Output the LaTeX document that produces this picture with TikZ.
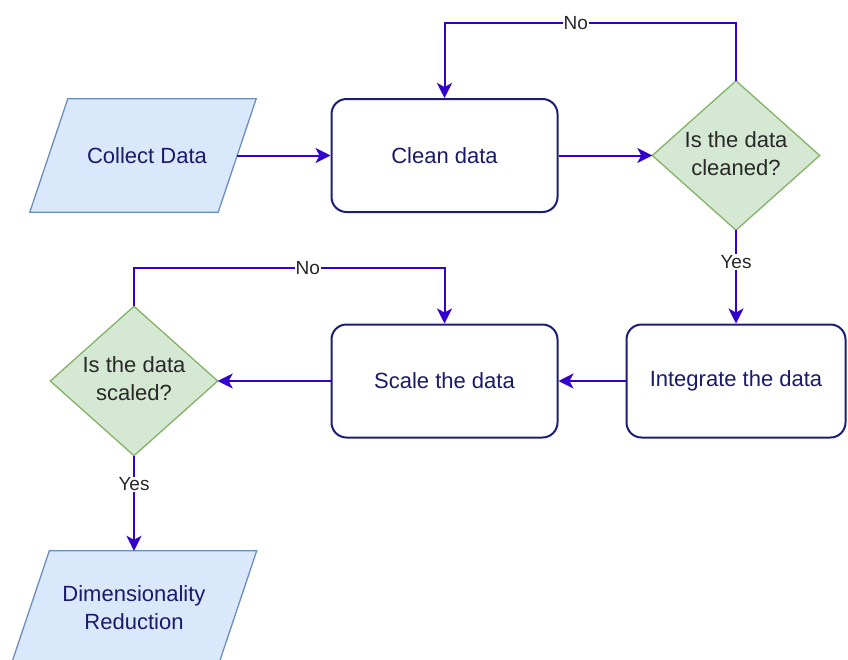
\documentclass[tikz,border=0pt]{standalone}
\usepackage{fontspec}
\setmainfont{Liberation Sans}
\usetikzlibrary{arrows.meta,backgrounds}
\definecolor{conn}{RGB}{51,0,204}
\definecolor{boxline}{RGB}{28,28,118}
\definecolor{boxtext}{RGB}{26,26,107}
\definecolor{parafill}{RGB}{218,232,252}
\definecolor{paraline}{RGB}{108,142,191}
\definecolor{diafill}{RGB}{213,232,212}
\definecolor{dialine}{RGB}{130,179,102}
\definecolor{dtext}{RGB}{40,40,40}
\begin{document}
\begin{tikzpicture}[x=1pt,y=-1pt,
  font=\fontsize{22}{28}\selectfont,
  procbox/.style={draw=boxline,line width=2pt,rounded corners=15pt,fill=white,
    text=boxtext,minimum width=#1,minimum height=113pt,inner sep=0pt,align=center},
  paranode/.style={minimum width=#1,minimum height=113pt,inner sep=0pt,align=center,text=boxtext},
  paraedge/.style={draw=paraline,fill=parafill,line width=1.3pt},
  dianode/.style={minimum width=167pt,minimum height=149pt,inner sep=0pt,align=center,text=dtext},
  diaedge/.style={draw=dialine,fill=diafill,line width=1.3pt},
  flow/.style={draw=conn,line width=2pt,-{Stealth[length=15pt,width=15pt,inset=4pt]}},
  lbl/.style={fill=white,text=dtext,inner sep=1pt,font=\fontsize{19}{22}\selectfont}
]
\useasboundingbox (0,0) rectangle (848,659);

% nodes
\node[paranode=188pt] (collect) at (143,155.5) {\hspace{8pt}Collect Data};
\node[procbox=226pt] (clean) at (444.5,155.5) {Clean data};
\node[dianode] (dclean) at (736,155.5) {\raisebox{-5pt}{\begin{tabular}{@{}c@{}}Is the data\\cleaned?\end{tabular}}};
\node[procbox=219pt] (integ) at (736,381) {Integrate the data};
\node[procbox=226pt] (scale) at (444.5,381) {Scale the data};
\node[dianode] (dscale) at (134,381) {\raisebox{-3pt}{\begin{tabular}{@{}c@{}}Is the data\\scaled?\end{tabular}}};
\node[paranode=207pt] (dimred) at (134,607.5) {Dimensionality\\Reduction};

\begin{scope}[on background layer]
  \draw[paraedge] ([xshift=19pt]collect.north west) -- ([xshift=19pt]collect.north east)
     -- ([xshift=-19pt]collect.south east) -- ([xshift=-19pt]collect.south west) -- cycle;
  \draw[paraedge] ([xshift=19pt]dimred.north west) -- ([xshift=19pt]dimred.north east)
     -- ([xshift=-19pt]dimred.south east) -- ([xshift=-19pt]dimred.south west) -- cycle;
  \draw[diaedge] (dclean.north) -- (dclean.east) -- (dclean.south) -- (dclean.west) -- cycle;
  \draw[diaedge] (dscale.north) -- (dscale.east) -- (dscale.south) -- (dscale.west) -- cycle;
\end{scope}

\coordinate (t1) at (736,23);
\coordinate (t2) at (444.5,23);
\coordinate (t3) at (134,268);
\coordinate (t4) at (444.5,268);

% connectors
\draw[flow] (collect.east) -- (clean.west);
\draw[flow] (clean.east) -- (dclean.west);
\draw[flow] (dclean.north) -- (t1) -- node[lbl,pos=0.55]{No} (t2) -- (clean.north);
\draw[flow] (dclean.south) -- node[lbl,pos=0.34]{Yes} (integ.north);
\draw[flow] (integ.west) -- (scale.east);
\draw[flow] (scale.west) -- (dscale.east);
\draw[flow] (dscale.north) -- (t3) -- node[lbl,pos=0.56]{No} (t4) -- (scale.north);
\draw[flow] (dscale.south) -- node[lbl,pos=0.3]{Yes} (dimred.north);
\end{tikzpicture}
\end{document}
